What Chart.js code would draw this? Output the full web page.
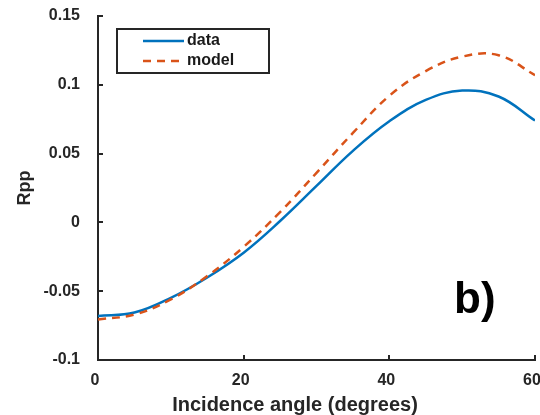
<!DOCTYPE html>
<html>
<head>
<meta charset="utf-8">
<script src="https://cdn.jsdelivr.net/npm/chart.js@4"></script>
<style>
  html, body { margin: 0; padding: 0; background: #fff; }
  #wrap { width: 540px; height: 415px; }
</style>
</head>
<body>
<div id="wrap"><canvas id="chart" width="540" height="415"></canvas></div>
<script>
// 입사각 (degrees)
const angles = [0, 5, 10, 15, 20, 25, 30, 35, 40, 45, 50, 55, 60];
// 관측 데이터
const dataRpp = [-0.068, -0.0655, -0.0548, -0.0400, -0.0220, 0.0010, 0.0265, 0.0520, 0.0735, 0.0890, 0.0958, 0.0915, 0.0740];
// 모델 결과
const modelRpp = [-0.0705, -0.0670, -0.0560, -0.0390, -0.0178, 0.0075, 0.0360, 0.0650, 0.0920, 0.1100, 0.1205, 0.1215, 0.1070];

const xTicks = [0, 20, 40, 60];
const yTicks = [-0.1, -0.05, 0, 0.05, 0.1, 0.15];
const xTitle = 'Incidence angle (degrees)';

const axisColor = '#262626';
const font = 'Liberation Sans, Arial, Helvetica, sans-serif';

function toPoints(values) {
    return angles.map((a, i) => ({ x: a, y: values[i] }));
}

// 안쪽으로 향하는 눈금 그리기
const innerTicks = {
    id: 'innerTicks',
    afterDraw(chart) {
        const ctx = chart.ctx;
        const area = chart.chartArea;
        const xs = chart.scales.x;
        const ys = chart.scales.y;
        ctx.save();
        ctx.strokeStyle = axisColor;
        ctx.lineWidth = 2;
        ctx.beginPath();
        xs.ticks.forEach(t => {
            const px = Math.round(xs.getPixelForValue(t.value));
            ctx.moveTo(px, area.bottom);
            ctx.lineTo(px, area.bottom - 5);
        });
        ys.ticks.forEach(t => {
            const py = Math.round(ys.getPixelForValue(t.value));
            ctx.moveTo(area.left, py);
            ctx.lineTo(area.left + 5, py);
        });
        ctx.stroke();

        // x축 제목 (원본처럼 약간 왼쪽에 위치)
        ctx.fillStyle = axisColor;
        ctx.font = 'bold 20px ' + font;
        ctx.textAlign = 'center';
        ctx.textBaseline = 'alphabetic';
        ctx.fillText(xTitle, 295, 411);
        ctx.restore();
    }
};

// 범례 박스와 b) 라벨
const boxLegend = {
    id: 'boxLegend',
    afterDraw(chart) {
        const ctx = chart.ctx;
        ctx.save();
        ctx.strokeStyle = axisColor;
        ctx.lineWidth = 2;
        ctx.fillStyle = '#fff';
        ctx.fillRect(117, 29, 152, 44);
        ctx.strokeRect(117, 29, 152, 44);

        const rows = [41, 61];
        chart.data.datasets.forEach((ds, i) => {
            const y = rows[i];
            ctx.beginPath();
            ctx.strokeStyle = ds.borderColor;
            ctx.lineWidth = 2.5;
            ctx.setLineDash(ds.borderDash || []);
            ctx.moveTo(143, y);
            ctx.lineTo(184, y);
            ctx.stroke();
            ctx.setLineDash([]);
            ctx.fillStyle = '#1a1a1a';
            ctx.font = 'bold 16px ' + font;
            ctx.textBaseline = 'middle';
            ctx.textAlign = 'left';
            ctx.fillText(ds.label, 187, y);
        });

        ctx.fillStyle = '#000';
        ctx.font = 'bold 44px ' + font;
        ctx.textBaseline = 'alphabetic';
        ctx.fillText('b)', 454, 313);
        ctx.restore();
    }
};

new Chart(document.getElementById('chart').getContext('2d'), {
    type: 'line',
    data: {
        datasets: [{
            label: 'data',
            data: toPoints(dataRpp),
            borderColor: '#0072BD',
            borderWidth: 2.5,
            pointRadius: 0,
            tension: 0.4,
            fill: false,
            order: 1
        }, {
            label: 'model',
            data: toPoints(modelRpp),
            borderColor: '#D95319',
            borderWidth: 2.5,
            borderDash: [8, 6],
            pointRadius: 0,
            tension: 0.4,
            fill: false,
            order: 0
        }]
    },
    options: {
        responsive: false,
        animation: false,
        layout: { padding: { top: 16, right: 5, left: 0, bottom: 0 } },
        plugins: {
            legend: { display: false },
            tooltip: { enabled: false }
        },
        scales: {
            x: {
                type: 'linear',
                min: 0,
                max: 60,
                afterBuildTicks: s => { s.ticks = xTicks.map(v => ({ value: v })); },
                afterFit: s => { s.height = 55; s.paddingLeft = 0; s.paddingRight = 0; },
                grid: { display: false, drawTicks: false },
                border: { display: true, color: axisColor, width: 2 },
                ticks: {
                    padding: 11,
                    labelOffset: -3,
                    color: '#262626',
                    font: { family: font, size: 16, weight: 'bold' },
                    maxRotation: 0
                },
                title: { display: false }
            },
            y: {
                type: 'linear',
                min: -0.1,
                max: 0.15,
                afterBuildTicks: s => { s.ticks = yTicks.map(v => ({ value: v })); },
                afterFit: s => { s.width = 98; s.paddingTop = 0; s.paddingBottom = 0; },
                grid: { display: false, drawTicks: false },
                border: { display: true, color: axisColor, width: 2 },
                ticks: {
                    padding: 18,
                    color: '#262626',
                    font: { family: font, size: 16, weight: 'bold' },
                    callback: v => String(Number(v.toFixed(2)))
                },
                title: {
                    display: true,
                    text: 'Rpp',
                    color: '#262626',
                    font: { family: font, size: 18, weight: 'bold' },
                    padding: { top: 14, bottom: 0 }
                }
            }
        }
    },
    plugins: [innerTicks, boxLegend]
});
</script>
</body>
</html>
